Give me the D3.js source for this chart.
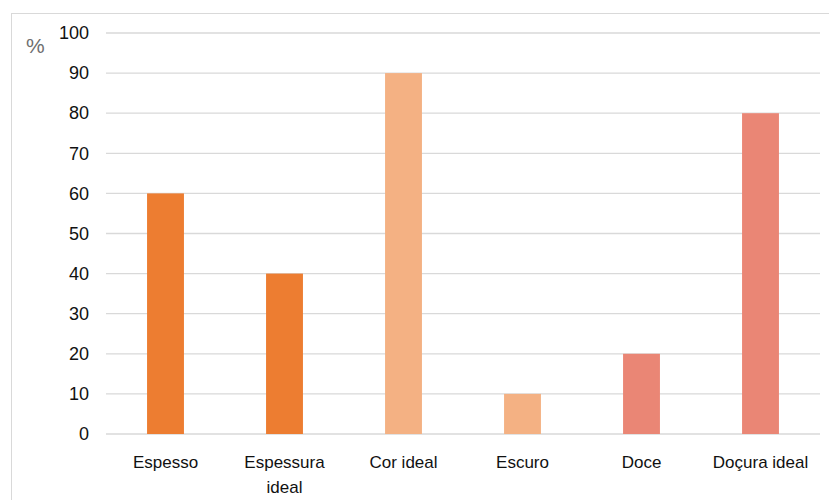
<!DOCTYPE html>
<html><head><meta charset="utf-8">
<script src="https://cdn.jsdelivr.net/npm/d3@7"></script>
<style>
body{margin:0;background:#fff;}
svg{display:block;font-family:"Liberation Sans Narrow","Liberation Sans",Arial,sans-serif;}
</style></head>
<body>
<svg id="c" width="829" height="500"></svg>
<script>
const categories = ["Espesso","Espessura ideal","Cor ideal","Escuro","Doce","Doçura ideal"];
const values = [60,40,90,10,20,80];
const barColors = ["#ED7D31","#ED7D31","#F4B183","#F4B183","#EA8675","#EA8675"];
const yTicks = [0,10,20,30,40,50,60,70,80,90,100];
const yUnit = "%";

const svg = d3.select("#c");
svg.append("rect").attr("x",11.5).attr("y",13.5).attr("width",830).attr("height",500)
  .attr("fill","none").attr("stroke","#d9d9d9");

const x = d3.scaleBand().domain(categories).range([106,820]).paddingInner(0.69).paddingOuter(0.345);
const y = d3.scaleLinear().domain([0,100]).range([434,33]);

const grid = svg.append("g");
grid.selectAll("line").data(yTicks).join("line")
  .attr("x1",106).attr("x2",820)
  .attr("y1",d=>y(d)).attr("y2",d=>y(d))
  .attr("stroke","#d9d9d9").attr("stroke-width",1.3);

const yAxis = svg.append("g").attr("transform","translate(106,0)")
  .call(d3.axisLeft(y).tickValues(yTicks).tickSize(0).tickPadding(17));
yAxis.select(".domain").remove();
yAxis.selectAll("text").attr("font-size",18).attr("fill","#111").attr("font-family","inherit");

svg.append("text").attr("x",26).attr("y",53).attr("font-size",21).attr("fill","#6f6f6f").text(yUnit);

svg.append("g").selectAll("rect").data(categories).join("rect")
  .attr("x",d=>x(d)).attr("width",x.bandwidth())
  .attr("y",(d,i)=>y(values[i])).attr("height",(d,i)=>y(0)-y(values[i]))
  .attr("fill",(d,i)=>barColors[i]);

const xAxis = svg.append("g").attr("transform","translate(0,434)")
  .call(d3.axisBottom(x).tickSize(0).tickPadding(0));
xAxis.select(".domain").remove();
xAxis.selectAll("text").remove();
const labels = {"Espessura ideal":["Espessura","ideal"]};
xAxis.selectAll(".tick").each(function(d){
  const lines = labels[d] || [d];
  const t = d3.select(this).append("text").attr("text-anchor","middle")
    .attr("font-size",17).attr("fill","#111");
  lines.forEach((l,i)=>t.append("tspan").attr("x",0).attr("y",34+i*25).text(l));
});
</script>
</body></html>
